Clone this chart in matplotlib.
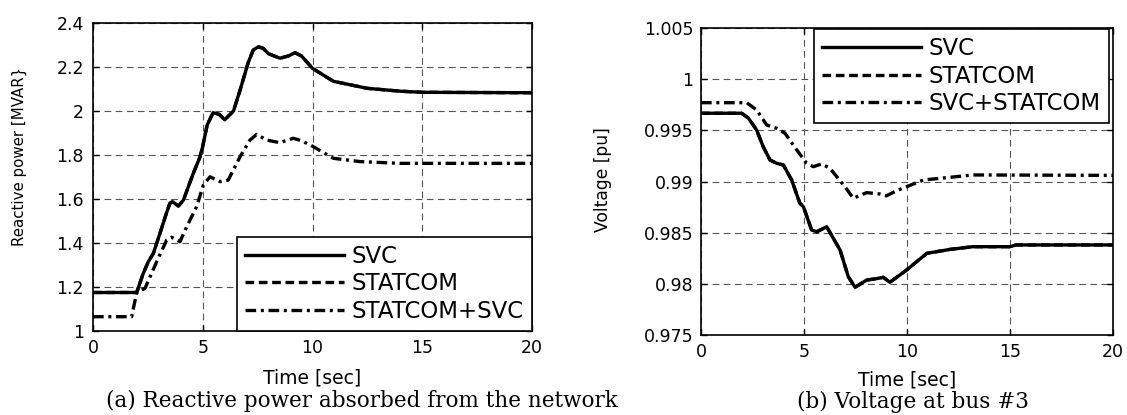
import matplotlib
matplotlib.use("Agg")
import matplotlib.pyplot as plt
from matplotlib.ticker import FixedLocator, FixedFormatter

# ---------------- data ----------------
x_ticks = [0, 5, 10, 15, 20]
x_tick_labels = ["0", "5", "10", "15", "20"]

# (a) reactive power [MVAR]
q_ticks = [1.0, 1.2, 1.4, 1.6, 1.8, 2.0, 2.2, 2.4]
q_tick_labels = ["1", "1.2", "1.4", "1.6", "1.8", "2", "2.2", "2.4"]

t_q = [0, 1.99, 2.29, 2.52, 2.75, 3.05, 3.36, 3.5, 3.62, 3.89, 4.12, 4.57, 4.87,
       5.0, 5.2, 5.47, 5.75, 6.0, 6.4, 6.7, 7.07, 7.3, 7.53, 7.75, 8.0, 8.52,
       8.9, 9.2, 9.5, 10.0, 10.95, 12.5, 14.0, 15.0, 20.0]
q_svc = [1.175, 1.175, 1.262, 1.315, 1.353, 1.444, 1.54, 1.58, 1.588, 1.568,
         1.595, 1.717, 1.79, 1.84, 1.936, 1.992, 1.985, 1.96, 2.0, 2.095, 2.22,
         2.277, 2.292, 2.285, 2.26, 2.24, 2.25, 2.265, 2.25, 2.194, 2.135,
         2.103, 2.09, 2.085, 2.083]
q_statcom = [1.175, 1.175, 1.262, 1.315, 1.353, 1.444, 1.54, 1.58, 1.588, 1.568,
             1.595, 1.717, 1.79, 1.84, 1.936, 1.992, 1.985, 1.96, 2.0, 2.095, 2.22,
             2.277, 2.292, 2.285, 2.26, 2.24, 2.25, 2.265, 2.25, 2.194, 2.135,
             2.103, 2.09, 2.085, 2.083]

t_qc = [0, 1.76, 1.99, 2.37, 2.9, 3.36, 3.58, 3.96, 4.27, 4.72, 5.03, 5.33,
        5.79, 6.16, 6.7, 7.15, 7.46, 7.9, 8.52, 9.12, 9.5, 10.0, 10.95, 12.16,
        14.0, 20.0]
q_combo = [1.065, 1.065, 1.174, 1.194, 1.315, 1.414, 1.426, 1.406, 1.474, 1.565,
           1.664, 1.701, 1.679, 1.686, 1.792, 1.868, 1.894, 1.868, 1.856, 1.876,
           1.865, 1.84, 1.785, 1.77, 1.762, 1.762]

# (b) voltage at bus #3 [pu]
v_ticks = [0.975, 0.98, 0.985, 0.99, 0.995, 1.0, 1.005]
v_tick_labels = ["0.975", "0.98", "0.985", "0.99", "0.995", "1", "1.005"]

t_v = [0, 1.97, 2.3, 2.7, 3.02, 3.35, 3.67, 4.0, 4.4, 4.8, 4.97, 5.37, 5.62,
       6.1, 6.75, 7.15, 7.48, 8.04, 8.5, 8.85, 9.17, 9.98, 10.96, 12.1, 13.2,
       15.0, 15.3, 20.0]
v_svc = [0.99667, 0.99667, 0.9962, 0.99503, 0.9934, 0.9921, 0.99178, 0.99161,
         0.99015, 0.98787, 0.98754, 0.98526, 0.98509, 0.98558, 0.98331, 0.9807,
         0.97966, 0.98037, 0.9805, 0.98064, 0.98015, 0.98135, 0.98298, 0.98337,
         0.98363, 0.98363, 0.9838, 0.9838]
v_statcom = [0.99667, 0.99667, 0.9962, 0.99503, 0.9934, 0.9921, 0.99178, 0.99161,
             0.99015, 0.98787, 0.98754, 0.98526, 0.98509, 0.98558, 0.98331, 0.9807,
             0.97966, 0.98037, 0.9805, 0.98064, 0.98015, 0.98135, 0.98298, 0.98337,
             0.98363, 0.98363, 0.9838, 0.9838]

t_vc = [0, 2.22, 2.7, 3.19, 3.67, 4.08, 4.65, 5.13, 5.45, 5.86, 6.26, 6.99, 7.39,
        8.04, 8.69, 9.0, 9.5, 9.98, 10.8, 12.1, 13.2, 20.0]
v_combo = [0.9977, 0.9977, 0.99699, 0.99552, 0.9952, 0.99471, 0.99308, 0.99178,
           0.99145, 0.99171, 0.99129, 0.98949, 0.98836, 0.98891, 0.98878, 0.9886,
           0.9891, 0.98949, 0.99015, 0.99041, 0.99064, 0.9906]

labels_a = ["SVC", "STATCOM", "STATCOM+SVC"]
labels_b = ["SVC", "STATCOM", "SVC+STATCOM"]

# ---------------- style ----------------
plt.rcParams["font.family"] = ["DejaVu Sans"]
LW = 2.4
DASH = (0, (2.6, 1.4))
DASHDOT = (0, (3.2, 1.4, 0.9, 1.4))
LEG_FS = 16.5

fig = plt.figure(figsize=(11.27, 4.15), dpi=100)
W, H = 1127.0, 415.0
ax1 = fig.add_axes([93 / W, 1 - 331 / H, 439 / W, 308 / H])
ax2 = fig.add_axes([701 / W, 1 - 335 / H, 412 / W, 307 / H])


def style_axes(ax, yticks, ylabels, ylim, ypad):
    ax.set_xlim(0, 20)
    ax.set_ylim(*ylim)
    ax.xaxis.set_major_locator(FixedLocator(x_ticks))
    ax.xaxis.set_major_formatter(FixedFormatter(x_tick_labels))
    ax.yaxis.set_major_locator(FixedLocator(yticks))
    ax.yaxis.set_major_formatter(FixedFormatter(ylabels))
    ax.tick_params(direction="in", top=True, right=True, length=4, width=1,
                   labelsize=12.5, colors="black")
    ax.tick_params(axis="x", pad=5.5)
    ax.tick_params(axis="y", pad=ypad)
    ax.grid(True, color="#555555", linestyle=(0, (6, 4)), linewidth=0.8)
    ax.set_axisbelow(True)
    for s in ax.spines.values():
        s.set_linewidth(1.2)
        s.set_color("black")
        s.set_zorder(3)


def make_legend(ax, loc, anchor):
    leg = ax.legend(loc=loc, bbox_to_anchor=anchor, borderaxespad=0,
                    fontsize=LEG_FS, handlelength=4.3, handletextpad=0.35,
                    borderpad=0.35, labelspacing=0.2, fancybox=False,
                    edgecolor="black", framealpha=1)
    leg.get_frame().set_linewidth(1.2)
    return leg


# ---- (a) ----
ax1.plot(t_q, q_svc, color="black", lw=LW, linestyle="-", label=labels_a[0])
ax1.plot(t_q, q_statcom, color="black", lw=LW, linestyle=DASH, label=labels_a[1])
ax1.plot(t_qc, q_combo, color="black", lw=LW, linestyle=DASHDOT, label=labels_a[2])
style_axes(ax1, q_ticks, q_tick_labels, (1.0, 2.4), 6.5)
ax1.set_xlabel("Time [sec]", fontsize=13.5, va="baseline")
ax1.xaxis.set_label_coords(0.5, -(383 - 331) / 308)
ax1.set_ylabel("Reactive power [MVAR}", fontsize=10.8, va="center")
ax1.yaxis.set_label_coords((19.5 - 93) / 439, (331 - 156) / 308)
make_legend(ax1, "lower right", (1.0, 0.0))

# ---- (b) ----
ax2.plot(t_v, v_svc, color="black", lw=LW, linestyle="-", label=labels_b[0])
ax2.plot(t_v, v_statcom, color="black", lw=LW, linestyle=DASH, label=labels_b[1])
ax2.plot(t_vc, v_combo, color="black", lw=LW, linestyle=DASHDOT, label=labels_b[2])
style_axes(ax2, v_ticks, v_tick_labels, (0.975, 1.005), 5.5)
ax2.set_xlabel("Time [sec]", fontsize=13.5, va="baseline")
ax2.xaxis.set_label_coords(0.5, -(385 - 335) / 307)
ax2.set_ylabel("Voltage [pu]", fontsize=12.3, va="center")
ax2.yaxis.set_label_coords((603 - 701) / 412, (335 - 180) / 307)
make_legend(ax2, "upper right", ((1109 - 701) / 412, (335 - 29) / 307))

# ---- captions ----
fig.text(362 / W, 1 - 407 / H, "(a) Reactive power absorbed from the network",
         family="DejaVu Serif", fontsize=15.5, ha="center", va="baseline")
fig.text(913 / W, 1 - 408 / H, "(b) Voltage at bus #3",
         family="DejaVu Serif", fontsize=15.5, ha="center", va="baseline")

fig.savefig("out.png", dpi=100)
